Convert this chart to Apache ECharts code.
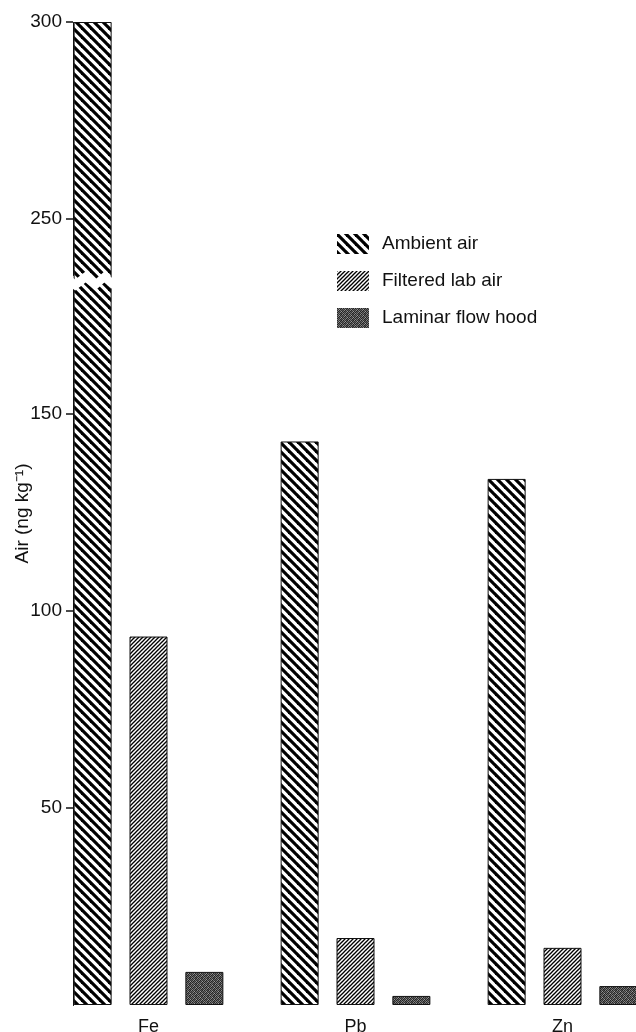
<!DOCTYPE html>
<html><head><meta charset="utf-8">
<script src="https://cdn.jsdelivr.net/npm/echarts@6.0.0/dist/echarts.min.js"></script>
<style>html,body{margin:0;padding:0;background:#fff;overflow:hidden}#c{width:636px;height:1032px}</style>
</head><body><div id="c"></div>
<script>
// ---- data ----
const categories = ['Fe', 'Pb', 'Zn'];
const seriesNames = ['Ambient air', 'Filtered lab air', 'Laminar flow hood'];
const ambientAir = [300, 143, 133.5];
const filteredLabAir = [93.5, 17, 14.5];
const laminarFlowHood = [8.4, 2.3, 4.8];
const yTickValues = [50, 100, 150, 250, 300];
const yBreak = { start: 182.5, end: 235.8 };

// ---- fill patterns ----
function stripes(period, lw, dir) {
  const c = document.createElement('canvas');
  c.width = period; c.height = period;
  const g = c.getContext('2d');
  g.fillStyle = '#fff'; g.fillRect(0, 0, period, period);
  g.strokeStyle = '#000'; g.lineWidth = lw;
  for (let k = -2; k <= 2; k++) {
    g.beginPath();
    if (dir === 'back') { g.moveTo(k * period - period, -period); g.lineTo(k * period + 2 * period, 2 * period); }
    else { g.moveTo(k * period + 2 * period, -period); g.lineTo(k * period - period, 2 * period); }
    g.stroke();
  }
  return { image: c, repeat: 'repeat' };
}
function stipple() {
  const m = [
    '#222','#777','#333','#555','#222','#888',
    '#666','#333','#999','#222','#666','#333',
    '#333','#888','#222','#777','#333','#555',
    '#777','#222','#555','#333','#999','#222',
    '#222','#666','#333','#888','#222','#777',
    '#888','#333','#777','#222','#555','#333'
  ];
  const c = document.createElement('canvas');
  c.width = 6; c.height = 6;
  const g = c.getContext('2d');
  for (let i = 0; i < 36; i++) { g.fillStyle = m[i]; g.fillRect(i % 6, Math.floor(i / 6), 1, 1); }
  return { image: c, repeat: 'repeat' };
}

const font = '"Liberation Sans", Arial, Helvetica, sans-serif';
const chart = echarts.init(document.getElementById('c'), null, { renderer: 'canvas' });
const barCommon = { type: 'bar', barWidth: 38, barGap: '47%' };
chart.setOption({
  animation: false,
  backgroundColor: '#fff',
  textStyle: { fontFamily: font },
  grid: { left: 45, width: 621, top: 22, bottom: 27, containLabel: false, outerBoundsMode: 'none' },
  legend: {
    orient: 'vertical', left: 337, top: 234, padding: 0,
    itemWidth: 32, itemHeight: 20, itemGap: 17, icon: 'rect',
    selectedMode: false, z: 1000,
    itemStyle: { borderWidth: 0 },
    textStyle: { fontSize: 19, color: '#111', fontFamily: font, padding: [0, 0, 0, 8] },
    data: seriesNames
  },
  xAxis: {
    type: 'category', data: categories,
    axisLine: { show: false }, axisTick: { show: false },
    axisLabel: { fontSize: 18, color: '#111', margin: 13, fontFamily: font }
  },
  yAxis: {
    type: 'value', min: 0, max: 300, interval: 50, offset: -28,
    breaks: [{ start: yBreak.start, end: yBreak.end, gap: '1.1%' }],
    breakArea: {
      show: true,
      itemStyle: { color: '#fff', borderColor: '#fff', borderWidth: 0, opacity: 1 },
      zigzagAmplitude: 4, zigzagMinSpan: 9, zigzagMaxSpan: 11, expandOnClick: false
    },
    axisLine: { show: true, lineStyle: { color: '#111', width: 1 } },
    axisTick: { show: true, length: 7, customValues: yTickValues, lineStyle: { color: '#111', width: 1.5 } },
    axisLabel: { customValues: yTickValues, margin: 11, fontSize: 19, color: '#111', fontFamily: font },
    splitLine: { show: false },
    name: 'Air (ng kg⁻¹)', nameLocation: 'middle', nameRotate: 90, nameGap: 41, nameMoveOverlap: false,
    nameTextStyle: { fontSize: 19, color: '#111', fontFamily: font }
  },
  series: [
    Object.assign({ name: seriesNames[0], data: ambientAir,
      itemStyle: { color: stripes(9, 3.2, 'back'), borderColor: '#111', borderWidth: 1 } }, barCommon),
    Object.assign({ name: seriesNames[1], data: filteredLabAir,
      itemStyle: { color: stripes(4, 1.3, 'fwd'), borderColor: '#111', borderWidth: 1 } }, barCommon),
    Object.assign({ name: seriesNames[2], data: laminarFlowHood,
      itemStyle: { color: stipple(), borderColor: '#111', borderWidth: 1 } }, barCommon)
  ]
});
</script>
</body></html>
